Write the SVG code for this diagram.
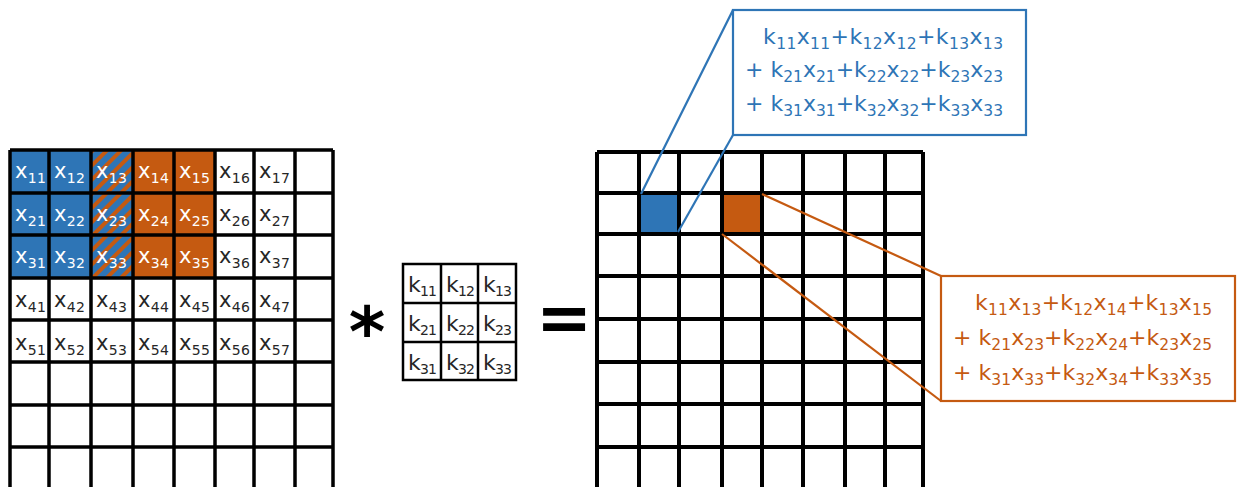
<svg xmlns="http://www.w3.org/2000/svg" width="1240" height="487" viewBox="0 0 1240 487">
<style>
text{font-family:"DejaVu Sans","Liberation Sans",sans-serif;}
.c{font-size:21px;fill:#262626;}
.cw{font-size:21px;fill:#ffffff;}
.k{font-size:22px;fill:#262626;}
.s{font-size:14px;}
.ks{font-size:14px;}
.bt{font-size:22px;fill:#2E75B6;}
.ot{font-size:22px;fill:#C55A11;}
.bs{font-size:15.5px;}
.grid{fill:none;stroke:#000;stroke-width:3.5;}
.ogrid{fill:none;stroke:#000;stroke-width:4;}
.kgrid{fill:none;stroke:#000;stroke-width:2.5;}
.blue{fill:#2E75B6;}
.orange{fill:#C55A11;}
.bl{stroke:#2E75B6;stroke-width:2.2;fill:none;}
.ol{stroke:#C55A11;stroke-width:2.2;fill:none;}
.op{font-weight:bold;fill:#000;}
</style>
<defs>
<pattern id="hatch" patternUnits="userSpaceOnUse" width="10" height="10" patternTransform="rotate(45)">
<rect width="10" height="10" fill="#2E75B6"/>
<rect width="4" height="10" fill="#C55A11"/>
</pattern>
</defs>
<rect width="1240" height="487" fill="#fff"/>

<g id="input-grid">
<rect class="blue" x="10" y="150" width="81" height="128"/>
<rect fill="url(#hatch)" x="91" y="150" width="42" height="128"/>
<rect class="orange" x="133" y="150" width="82" height="128"/>
<path class="grid" d="M10 150V490M49 150V490M91 150V490M133 150V490M174 150V490M215 150V490M254 150V490M295 150V490M333 150V490M10 150H333M10 193H333M10 235H333M10 278H333M10 320H333M10 362H333M10 405H333M10 447H333"/>
<text class="cw" x="15" y="178" textLength="31" lengthAdjust="spacing">x<tspan class="s" dy="5">11</tspan></text>
<text class="cw" x="54" y="178" textLength="31" lengthAdjust="spacing">x<tspan class="s" dy="5">12</tspan></text>
<text class="cw" x="96" y="178" textLength="31" lengthAdjust="spacing">x<tspan class="s" dy="5">13</tspan></text>
<text class="cw" x="138" y="178" textLength="31" lengthAdjust="spacing">x<tspan class="s" dy="5">14</tspan></text>
<text class="cw" x="179" y="178" textLength="31" lengthAdjust="spacing">x<tspan class="s" dy="5">15</tspan></text>
<text class="c" x="219" y="178" textLength="31" lengthAdjust="spacing">x<tspan class="s" dy="5">16</tspan></text>
<text class="c" x="259" y="178" textLength="31" lengthAdjust="spacing">x<tspan class="s" dy="5">17</tspan></text>
<text class="cw" x="15" y="221" textLength="31" lengthAdjust="spacing">x<tspan class="s" dy="5">21</tspan></text>
<text class="cw" x="54" y="221" textLength="31" lengthAdjust="spacing">x<tspan class="s" dy="5">22</tspan></text>
<text class="cw" x="96" y="221" textLength="31" lengthAdjust="spacing">x<tspan class="s" dy="5">23</tspan></text>
<text class="cw" x="138" y="221" textLength="31" lengthAdjust="spacing">x<tspan class="s" dy="5">24</tspan></text>
<text class="cw" x="179" y="221" textLength="31" lengthAdjust="spacing">x<tspan class="s" dy="5">25</tspan></text>
<text class="c" x="219" y="221" textLength="31" lengthAdjust="spacing">x<tspan class="s" dy="5">26</tspan></text>
<text class="c" x="259" y="221" textLength="31" lengthAdjust="spacing">x<tspan class="s" dy="5">27</tspan></text>
<text class="cw" x="15" y="263" textLength="31" lengthAdjust="spacing">x<tspan class="s" dy="5">31</tspan></text>
<text class="cw" x="54" y="263" textLength="31" lengthAdjust="spacing">x<tspan class="s" dy="5">32</tspan></text>
<text class="cw" x="96" y="263" textLength="31" lengthAdjust="spacing">x<tspan class="s" dy="5">33</tspan></text>
<text class="cw" x="138" y="263" textLength="31" lengthAdjust="spacing">x<tspan class="s" dy="5">34</tspan></text>
<text class="cw" x="179" y="263" textLength="31" lengthAdjust="spacing">x<tspan class="s" dy="5">35</tspan></text>
<text class="c" x="219" y="263" textLength="31" lengthAdjust="spacing">x<tspan class="s" dy="5">36</tspan></text>
<text class="c" x="259" y="263" textLength="31" lengthAdjust="spacing">x<tspan class="s" dy="5">37</tspan></text>
<text class="c" x="15" y="307" textLength="31" lengthAdjust="spacing">x<tspan class="s" dy="5">41</tspan></text>
<text class="c" x="54" y="307" textLength="31" lengthAdjust="spacing">x<tspan class="s" dy="5">42</tspan></text>
<text class="c" x="96" y="307" textLength="31" lengthAdjust="spacing">x<tspan class="s" dy="5">43</tspan></text>
<text class="c" x="138" y="307" textLength="31" lengthAdjust="spacing">x<tspan class="s" dy="5">44</tspan></text>
<text class="c" x="179" y="307" textLength="31" lengthAdjust="spacing">x<tspan class="s" dy="5">45</tspan></text>
<text class="c" x="219" y="307" textLength="31" lengthAdjust="spacing">x<tspan class="s" dy="5">46</tspan></text>
<text class="c" x="259" y="307" textLength="31" lengthAdjust="spacing">x<tspan class="s" dy="5">47</tspan></text>
<text class="c" x="15" y="350" textLength="31" lengthAdjust="spacing">x<tspan class="s" dy="5">51</tspan></text>
<text class="c" x="54" y="350" textLength="31" lengthAdjust="spacing">x<tspan class="s" dy="5">52</tspan></text>
<text class="c" x="96" y="350" textLength="31" lengthAdjust="spacing">x<tspan class="s" dy="5">53</tspan></text>
<text class="c" x="138" y="350" textLength="31" lengthAdjust="spacing">x<tspan class="s" dy="5">54</tspan></text>
<text class="c" x="179" y="350" textLength="31" lengthAdjust="spacing">x<tspan class="s" dy="5">55</tspan></text>
<text class="c" x="219" y="350" textLength="31" lengthAdjust="spacing">x<tspan class="s" dy="5">56</tspan></text>
<text class="c" x="259" y="350" textLength="31" lengthAdjust="spacing">x<tspan class="s" dy="5">57</tspan></text>
</g>

<g id="asterisk">
<text class="op" x="367" y="356" font-size="70" text-anchor="middle">*</text>
</g>

<g id="kernel">
<path class="kgrid" d="M403 264H516V380H403ZM441 264V380M478 264V380M403 303H516M403 342H516"/>
<text class="k" x="408" y="291.5" textLength="29" lengthAdjust="spacing">k<tspan class="ks" dy="4">11</tspan></text>
<text class="k" x="446" y="291.5" textLength="29" lengthAdjust="spacing">k<tspan class="ks" dy="4">12</tspan></text>
<text class="k" x="483" y="291.5" textLength="29" lengthAdjust="spacing">k<tspan class="ks" dy="4">13</tspan></text>
<text class="k" x="408" y="330.5" textLength="29" lengthAdjust="spacing">k<tspan class="ks" dy="4">21</tspan></text>
<text class="k" x="446" y="330.5" textLength="29" lengthAdjust="spacing">k<tspan class="ks" dy="4">22</tspan></text>
<text class="k" x="483" y="330.5" textLength="29" lengthAdjust="spacing">k<tspan class="ks" dy="4">23</tspan></text>
<text class="k" x="408" y="369.5" textLength="29" lengthAdjust="spacing">k<tspan class="ks" dy="4">31</tspan></text>
<text class="k" x="446" y="369.5" textLength="29" lengthAdjust="spacing">k<tspan class="ks" dy="4">32</tspan></text>
<text class="k" x="483" y="369.5" textLength="29" lengthAdjust="spacing">k<tspan class="ks" dy="4">33</tspan></text>
</g>

<g id="equals">
<text class="op" x="564" y="341" font-size="67" text-anchor="middle">=</text>
</g>

<g id="output-grid">
<rect class="blue" x="639" y="193" width="40" height="41"/>
<rect class="orange" x="722" y="193" width="40" height="41"/>
<path class="ogrid" d="M597 152V490M639 152V490M679 152V490M722 152V490M762 152V490M803 152V490M845 152V490M885 152V490M923 152V490M597 152H923M597 193H923M597 234H923M597 276H923M597 319H923M597 362H923M597 404H923M597 447H923"/>
</g>

<g id="blue-callout">
<rect class="bl" x="733" y="10" width="293" height="125" fill="#fff"/>
<text class="bt" x="763" y="43.5" textLength="240" lengthAdjust="spacing">k<tspan class="bs" dy="5">11</tspan><tspan dy="-5">x</tspan><tspan class="bs" dy="5">11</tspan><tspan dy="-5">+k</tspan><tspan class="bs" dy="5">12</tspan><tspan dy="-5">x</tspan><tspan class="bs" dy="5">12</tspan><tspan dy="-5">+k</tspan><tspan class="bs" dy="5">13</tspan><tspan dy="-5">x</tspan><tspan class="bs" dy="5">13</tspan></text>
<text class="bt" x="745" y="77" textLength="258" lengthAdjust="spacing">+ k<tspan class="bs" dy="5">21</tspan><tspan dy="-5">x</tspan><tspan class="bs" dy="5">21</tspan><tspan dy="-5">+k</tspan><tspan class="bs" dy="5">22</tspan><tspan dy="-5">x</tspan><tspan class="bs" dy="5">22</tspan><tspan dy="-5">+k</tspan><tspan class="bs" dy="5">23</tspan><tspan dy="-5">x</tspan><tspan class="bs" dy="5">23</tspan></text>
<text class="bt" x="745" y="110.5" textLength="258" lengthAdjust="spacing">+ k<tspan class="bs" dy="5">31</tspan><tspan dy="-5">x</tspan><tspan class="bs" dy="5">31</tspan><tspan dy="-5">+k</tspan><tspan class="bs" dy="5">32</tspan><tspan dy="-5">x</tspan><tspan class="bs" dy="5">32</tspan><tspan dy="-5">+k</tspan><tspan class="bs" dy="5">33</tspan><tspan dy="-5">x</tspan><tspan class="bs" dy="5">33</tspan></text>
</g>

<g id="orange-callout">
<rect class="ol" x="941" y="276" width="294" height="125" fill="#fff"/>
<text class="ot" x="975" y="310" textLength="237" lengthAdjust="spacing">k<tspan class="bs" dy="5">11</tspan><tspan dy="-5">x</tspan><tspan class="bs" dy="5">13</tspan><tspan dy="-5">+k</tspan><tspan class="bs" dy="5">12</tspan><tspan dy="-5">x</tspan><tspan class="bs" dy="5">14</tspan><tspan dy="-5">+k</tspan><tspan class="bs" dy="5">13</tspan><tspan dy="-5">x</tspan><tspan class="bs" dy="5">15</tspan></text>
<text class="ot" x="953" y="345" textLength="259" lengthAdjust="spacing">+ k<tspan class="bs" dy="5">21</tspan><tspan dy="-5">x</tspan><tspan class="bs" dy="5">23</tspan><tspan dy="-5">+k</tspan><tspan class="bs" dy="5">22</tspan><tspan dy="-5">x</tspan><tspan class="bs" dy="5">24</tspan><tspan dy="-5">+k</tspan><tspan class="bs" dy="5">23</tspan><tspan dy="-5">x</tspan><tspan class="bs" dy="5">25</tspan></text>
<text class="ot" x="953" y="380" textLength="259" lengthAdjust="spacing">+ k<tspan class="bs" dy="5">31</tspan><tspan dy="-5">x</tspan><tspan class="bs" dy="5">33</tspan><tspan dy="-5">+k</tspan><tspan class="bs" dy="5">32</tspan><tspan dy="-5">x</tspan><tspan class="bs" dy="5">34</tspan><tspan dy="-5">+k</tspan><tspan class="bs" dy="5">33</tspan><tspan dy="-5">x</tspan><tspan class="bs" dy="5">35</tspan></text>
</g>

<g id="connectors">
<line class="bl" x1="733" y1="10" x2="641" y2="194"/>
<line class="bl" x1="733" y1="135" x2="678" y2="232"/>
<line class="ol" x1="941" y1="276" x2="762" y2="194"/>
<line class="ol" x1="941" y1="401" x2="722" y2="234"/>
</g>
</svg>
